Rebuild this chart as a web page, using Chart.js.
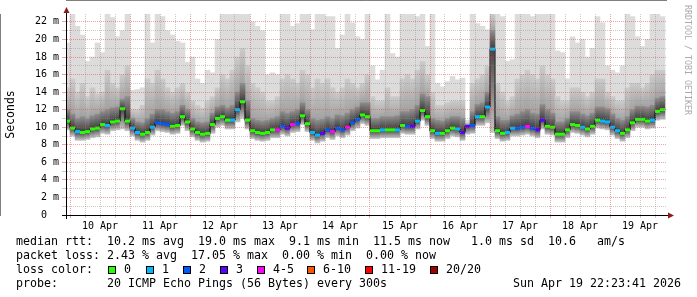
<!DOCTYPE html>
<html>
<head>
<meta charset="utf-8">
<script src="https://cdn.jsdelivr.net/npm/chart.js@4.4.1/dist/chart.umd.min.js"></script>
<style>
  body { margin: 0; background: #fff; }
  #wrap { position: relative; width: 697px; height: 297px; overflow: hidden; font-family: 'DejaVu Sans Mono', monospace; color: #000; }
  #chart { position: absolute; left: 0; top: 0; }
  .txt { position: absolute; left: 16px; font-size: 11.63px; line-height: 14px; white-space: pre; }
  .box { position: absolute; top: 266px; width: 8px; height: 8px; box-sizing: border-box; border: 1px solid #000; }
  .lbl { position: absolute; top: 262px; font-size: 11.63px; line-height: 14px; white-space: pre; }
  #mark { position: absolute; left: 683px; top: 5px; writing-mode: vertical-rl; font-size: 8.3px; color: #aaa; }
</style>
</head>
<body>
<div id="wrap">
  <canvas id="chart" width="697" height="297"></canvas>
  <div id="mark">RRDTOOL / TOBI OETIKER</div>
  <div class="txt" style="top:234px">median rtt:  10.2 ms avg  19.0 ms max  9.1 ms min  11.5 ms now   1.0 ms sd  10.6   am/s</div>
  <div class="txt" style="top:248px">packet loss: 2.43 % avg  17.05 % max  0.00 % min  0.00 % now</div>
  <div class="txt" style="top:262px">loss color:</div>
  <div class="box" style="left:108px;background:#26ff00"></div><div class="lbl" style="left:124px">0</div>
  <div class="box" style="left:146px;background:#00b8ff"></div><div class="lbl" style="left:162px">1</div>
  <div class="box" style="left:183px;background:#0059ff"></div><div class="lbl" style="left:199px">2</div>
  <div class="box" style="left:220px;background:#5e00ff"></div><div class="lbl" style="left:236px">3</div>
  <div class="box" style="left:257px;background:#ff00ff"></div><div class="lbl" style="left:273px">4-5</div>
  <div class="box" style="left:307px;background:#ff5500"></div><div class="lbl" style="left:323px">6-10</div>
  <div class="box" style="left:365px;background:#ff0000"></div><div class="lbl" style="left:381px">11-19</div>
  <div class="box" style="left:430px;background:#a10000"></div><div class="lbl" style="left:446px">20/20</div>
  <div class="txt" style="top:276px">probe:       20 ICMP Echo Pings (56 Bytes) every 300s</div>
  <div class="txt" style="top:276px;left:auto;right:16px">Sun Apr 19 22:23:41 2026</div>
</div>
<script>
// x axis: hours since 10 Apr 00:00, one sample every 2 hours
const dayLabels = ['10 Apr', '11 Apr', '12 Apr', '13 Apr', '14 Apr', '15 Apr', '16 Apr', '17 Apr', '18 Apr', '19 Apr'];
const firstHour = -1;
const stepHours = 2;

// median rtt (ms)
const median = [
  10.7, 9.9, 9.5, 9.4, 9.5, 9.8, 9.9, 10.3, 10.2, 10.6,
  10.7, 12.1, 10.7, 9.9, 9.4, 9.2, 9.4, 10.0, 10.5, 10.4,
  10.3, 10.1, 10.2, 11.2, 10.6, 9.8, 9.4, 9.2, 9.3, 10.3,
  11.0, 11.2, 10.8, 10.8, 12.0, 12.9, 10.8, 9.6, 9.4, 9.3,
  9.4, 9.7, 9.7, 10.1, 9.9, 10.3, 10.4, 11.3, 10.4, 9.4,
  9.1, 9.3, 9.7, 9.5, 9.9, 9.7, 10.0, 10.5, 10.9, 11.4,
  11.2, 9.6, 9.6, 9.7, 9.7, 9.7, 9.7, 10.2, 10.1, 10.1,
  10.7, 11.9, 11.2, 9.6, 9.3, 9.3, 9.6, 9.9, 9.8, 9.4,
  10.1, 10.2, 11.2, 11.2, 12.3, 18.9, 9.6, 9.3, 9.4, 9.9,
  9.9, 10.0, 10.1, 9.9, 9.7, 10.8, 10.1, 10.0, 9.2, 9.2,
  9.7, 10.3, 10.2, 10.0, 9.8, 10.1, 10.8, 10.7, 10.6, 10.0,
  9.6, 9.3, 9.7, 10.5, 10.9, 10.9, 10.7, 10.8, 11.8, 12.0
];

// loss class per sample: 0, 1, 2, 3, 4-5, 6-10, 11-19, 20/20
const lossClass = [
  0, 0, 1, 0, 0, 0, 0, 0, 1, 0,
  0, 0, 0, 1, 1, 0, 0, 1, 2, 2,
  2, 0, 0, 0, 0, 0, 0, 0, 0, 0,
  0, 0, 0, 1, 1, 0, 0, 0, 0, 0,
  0, 0, 4, 2, 3, 4, 2, 0, 0, 1,
  1, 3, 2, 4, 2, 2, 4, 2, 2, 0,
  0, 0, 0, 1, 0, 0, 1, 0, 2, 3,
  1, 0, 0, 0, 1, 0, 0, 0, 1, 3,
  3, 2, 1, 0, 1, 1, 0, 0, 1, 1,
  2, 2, 4, 2, 3, 3, 0, 0, 0, 0,
  0, 0, 0, 1, 0, 0, 0, 1, 1, 1,
  1, 0, 0, 0, 0, 0, 0, 1, 0, 0
];

// smoke: fastest ping
const smokeLow = [
  9.7, 9.0, 8.5, 8.5, 8.6, 8.8, 8.9, 9.3, 9.2, 9.6,
  9.7, 9.8, 9.6, 9.0, 8.5, 8.3, 8.5, 9.1, 9.6, 9.5,
  9.4, 9.2, 9.3, 10.2, 9.6, 8.9, 8.5, 8.3, 8.4, 9.3,
  10.0, 10.2, 9.8, 9.8, 10.6, 11.0, 9.8, 8.7, 8.5, 8.4,
  8.5, 8.8, 8.8, 9.2, 9.0, 9.4, 9.5, 10.3, 9.5, 8.5,
  8.2, 8.4, 8.8, 8.6, 9.0, 8.8, 9.1, 9.6, 9.9, 10.4,
  10.2, 8.7, 8.7, 8.8, 8.8, 8.8, 8.8, 9.3, 9.2, 9.2,
  9.8, 10.8, 10.2, 8.7, 8.4, 8.4, 8.7, 9.0, 8.9, 8.5,
  9.2, 9.3, 10.2, 10.2, 10.5, 9.4, 8.7, 8.4, 8.5, 9.0,
  9.0, 9.1, 9.2, 9.0, 8.8, 9.8, 9.2, 9.1, 8.3, 8.3,
  8.8, 9.4, 9.3, 9.1, 8.9, 9.2, 9.9, 9.8, 9.7, 9.1,
  8.7, 8.4, 8.8, 9.6, 10.0, 10.0, 9.8, 9.9, 10.8, 10.9
];

// smoke: top of the dark core above the median
const smokeDark = [
  12.0, 11.5, 11.0, 11.2, 11.0, 11.3, 11.5, 11.8, 12.0, 12.2,
  12.3, 13.2, 13.5, 11.0, 10.6, 10.5, 11.0, 11.5, 12.0, 12.0,
  11.8, 11.6, 11.8, 12.5, 12.0, 11.0, 10.6, 10.5, 10.6, 11.6,
  12.3, 12.5, 12.2, 12.5, 14.0, 15.0, 13.0, 11.0, 10.8, 10.7,
  10.8, 11.0, 11.2, 11.8, 11.6, 11.8, 12.0, 12.8, 12.0, 11.0,
  10.8, 10.9, 11.2, 11.0, 11.4, 11.3, 11.6, 12.0, 12.3, 12.8,
  12.8, 11.0, 11.0, 11.2, 11.2, 11.2, 11.3, 11.8, 11.8, 12.0,
  12.5, 13.8, 13.5, 11.0, 10.8, 10.7, 11.0, 11.2, 11.2, 11.0,
  10.3, 11.8, 12.6, 12.8, 14.0, 21.0, 11.2, 10.8, 10.8, 11.3,
  11.5, 11.8, 12.0, 11.6, 11.5, 12.6, 12.0, 11.6, 10.6, 10.6,
  11.0, 11.8, 11.8, 11.5, 11.3, 11.6, 12.3, 12.3, 12.1, 11.5,
  11.0, 10.8, 11.2, 12.0, 12.4, 12.4, 12.3, 12.5, 13.3, 13.5
];

// smoke: top of the mid grey
const smokeMid = [
  14.5, 15.5, 14.0, 15.0, 13.5, 14.5, 13.8, 14.0, 16.5, 15.0,
  14.5, 16.0, 17.0, 12.0, 12.0, 12.5, 15.5, 15.0, 16.5, 15.5,
  14.5, 14.0, 14.5, 15.0, 14.0, 13.0, 12.5, 12.2, 13.0, 13.5,
  14.5, 16.0, 15.5, 16.5, 18.0, 19.0, 17.0, 15.0, 14.5, 14.0,
  13.0, 13.0, 13.5, 15.5, 16.0, 15.5, 15.0, 16.5, 16.0, 14.5,
  15.5, 15.0, 15.5, 14.5, 14.0, 14.5, 15.5, 15.0, 14.5, 15.0,
  16.0, 13.5, 13.0, 13.0, 14.5, 13.5, 13.5, 15.5, 16.0, 15.5,
  16.5, 17.5, 16.0, 14.0, 12.5, 12.5, 12.8, 13.0, 13.0, 13.0,
  10.5, 15.0, 15.5, 16.0, 17.0, 22.9, 15.0, 14.0, 13.0, 13.5,
  15.5, 16.0, 16.5, 16.0, 15.5, 17.0, 16.0, 15.5, 13.5, 13.0,
  13.0, 14.5, 14.5, 14.0, 13.5, 14.0, 15.5, 15.5, 14.0, 13.5,
  13.0, 13.0, 14.5, 15.0, 15.0, 14.5, 15.0, 16.0, 16.5, 16.5
];

// smoke: slowest ping
const smokeHigh = [
  19.6, 22.9, 21.5, 20.5, 17.5, 18.0, 19.6, 18.5, 22.9, 22.5,
  20.3, 21.0, 22.9, 14.2, 14.3, 14.5, 22.9, 19.6, 22.9, 22.6,
  21.0, 20.5, 19.8, 19.6, 17.4, 18.0, 15.5, 15.0, 16.5, 16.2,
  20.0, 22.9, 22.9, 22.9, 22.9, 22.9, 22.9, 22.0, 21.5, 21.0,
  16.0, 16.2, 16.0, 22.9, 22.9, 21.5, 21.8, 22.9, 22.9, 21.1,
  22.9, 22.9, 22.6, 22.6, 19.0, 20.5, 22.9, 21.9, 20.3, 20.0,
  22.9, 17.0, 15.4, 16.5, 22.9, 18.4, 18.0, 22.9, 22.9, 22.9,
  22.6, 22.9, 19.2, 22.9, 15.0, 14.6, 15.2, 15.8, 15.4, 15.6,
  10.8, 22.9, 21.8, 21.5, 21.1, 22.9, 22.9, 22.6, 17.5, 17.7,
  22.9, 22.9, 22.9, 22.6, 22.9, 22.9, 22.9, 22.9, 18.7, 18.5,
  15.5, 20.3, 19.6, 20.0, 18.0, 19.0, 22.6, 21.9, 17.0, 16.5,
  16.2, 17.0, 22.9, 22.6, 20.3, 19.2, 20.0, 22.9, 22.9, 22.6
];

const lossColors = ['#26ff00', '#00b8ff', '#0059ff', '#5e00ff', '#ff00ff', '#ff5500', '#ff0000', '#a10000'];

const hours = median.map((_, i) => firstHour + i * stepHours);
const gridHours = [];
dayLabels.forEach((_, d) => { for (let h = 0; h < 24; h += 6) gridHours.push(d * 24 + h); });
const yTicks = [];
for (let v = 0; v <= 22; v++) yTicks.push(v);

const RED = 'rgba(225, 70, 70, 0.5)';
const GREY = 'rgba(140, 140, 140, 0.45)';

// vertical fade from the median side of a band to its outer side
function fade(c0, c1) {
  return (ctx) => {
    const chart = ctx.chart;
    const raw = ctx.raw;
    const y = chart.scales && chart.scales.y;
    if (!raw || !y) return c0;
    const p0 = y.getPixelForValue(raw.y[0]);
    const p1 = y.getPixelForValue(raw.y[1]);
    if (!isFinite(p0) || !isFinite(p1) || Math.abs(p1 - p0) < 0.5) return c0;
    const g = chart.ctx.createLinearGradient(0, p0, 0, p1);
    g.addColorStop(0, c0);
    g.addColorStop(1, c1);
    return g;
  };
}

function band(from, to, color, order) {
  return {
    type: 'bar',
    order: order,
    grouped: false,
    barPercentage: 1,
    categoryPercentage: 1,
    borderWidth: 0,
    backgroundColor: color,
    data: hours.map((h, i) => ({ x: h, y: [from[i], to[i]] }))
  };
}

const axisArrows = {
  id: 'axisArrows',
  afterDraw(chart) {
    const { ctx, chartArea: a } = chart;
    const x0 = a.left + 0.5;
    const y0 = a.bottom + 0.5;
    ctx.save();
    ctx.strokeStyle = '#000';
    ctx.lineWidth = 1;
    ctx.beginPath();
    ctx.moveTo(x0, a.bottom + 4);
    ctx.lineTo(x0, a.top - 2);
    ctx.moveTo(a.left - 4, y0);
    ctx.lineTo(a.right + 3, y0);
    ctx.stroke();
    ctx.fillStyle = '#8b1a1a';
    ctx.beginPath();
    ctx.moveTo(x0 - 3, a.top - 1);
    ctx.lineTo(x0 + 3, a.top - 1);
    ctx.lineTo(x0, a.top - 7);
    ctx.closePath();
    ctx.fill();
    ctx.beginPath();
    ctx.moveTo(a.right + 2, y0 - 3);
    ctx.lineTo(a.right + 2, y0 + 3);
    ctx.lineTo(a.right + 8, y0);
    ctx.closePath();
    ctx.fill();
    ctx.restore();
  }
};

Chart.defaults.font.family = "'DejaVu Sans Mono', monospace";
Chart.defaults.color = '#000';

new Chart(document.getElementById('chart'), {
  type: 'bar',
  data: {
    datasets: [
      {
        type: 'line',
        order: 0,
        data: hours.map((h, i) => ({ x: h, y: median[i] })),
        stepped: 'middle',
        borderColor: '#000',
        borderWidth: 1,
        pointStyle: 'line',
        pointRadius: 2.5,
        pointBorderWidth: 3,
        pointBorderColor: lossClass.map(c => lossColors[c]),
        pointBackgroundColor: lossClass.map(c => lossColors[c])
      },
      band(median, smokeDark, fade('#3c3c3c', '#8e8e8e'), 1),
      band(smokeDark, smokeMid, fade('#a2a2a2', '#cbcbcb'), 2),
      band(smokeMid, smokeHigh, '#dcdcdc', 3),
      band(median, smokeLow, fade('#444444', '#c6c6c6'), 4)
    ]
  },
  options: {
    responsive: false,
    devicePixelRatio: 1,
    animation: false,
    events: [],
    layout: { padding: { top: 14, right: 31, bottom: 0, left: 0 } },
    plugins: { legend: { display: false }, tooltip: { enabled: false } },
    scales: {
      x: {
        type: 'linear',
        min: -1.6,
        max: 238.4,
        offset: false,
        bounds: 'data',
        afterBuildTicks: (axis) => { axis.ticks = gridHours.map(v => ({ value: v })); },
        afterFit: (s) => { s.height = 82; },
        ticks: {
          autoSkip: false,
          maxRotation: 0,
          padding: 2,
          font: { size: 10 },
          color: '#000',
          callback: (v) => (v % 24 === 12 ? dayLabels[(v - 12) / 24] : '')
        },
        grid: {
          z: 1,
          offset: false,
          tickLength: 3,
          color: (c) => (c.tick && c.tick.value % 24 === 0 ? RED : GREY)
        },
        border: { color: '#000', width: 1, dash: [1, 1] }
      },
      y: {
        min: 0,
        max: 22.9,
        bounds: 'data',
        afterBuildTicks: (axis) => { axis.ticks = yTicks.map(v => ({ value: v })); },
        afterFit: (s) => { s.width = 66; },
        ticks: {
          autoSkip: false,
          padding: 3,
          font: { size: 10 },
          color: '#000',
          callback: (v) => (v === 0 ? '0  ' : (v % 2 === 0 ? v + ' m' : ''))
        },
        grid: {
          z: 1,
          offset: false,
          tickLength: 4,
          color: (c) => {
            if (!c.tick || c.tick.value === 0) return 'rgba(0,0,0,0)';
            return c.tick.value % 2 === 0 ? RED : GREY;
          }
        },
        border: { color: '#000', width: 1, dash: [1, 1] },
        title: {
          display: true,
          text: 'Seconds',
          color: '#000',
          font: { size: 11.5 },
          padding: { top: 4, bottom: 0 }
        }
      }
    }
  },
  plugins: [axisArrows]
});
</script>
</body>
</html>
